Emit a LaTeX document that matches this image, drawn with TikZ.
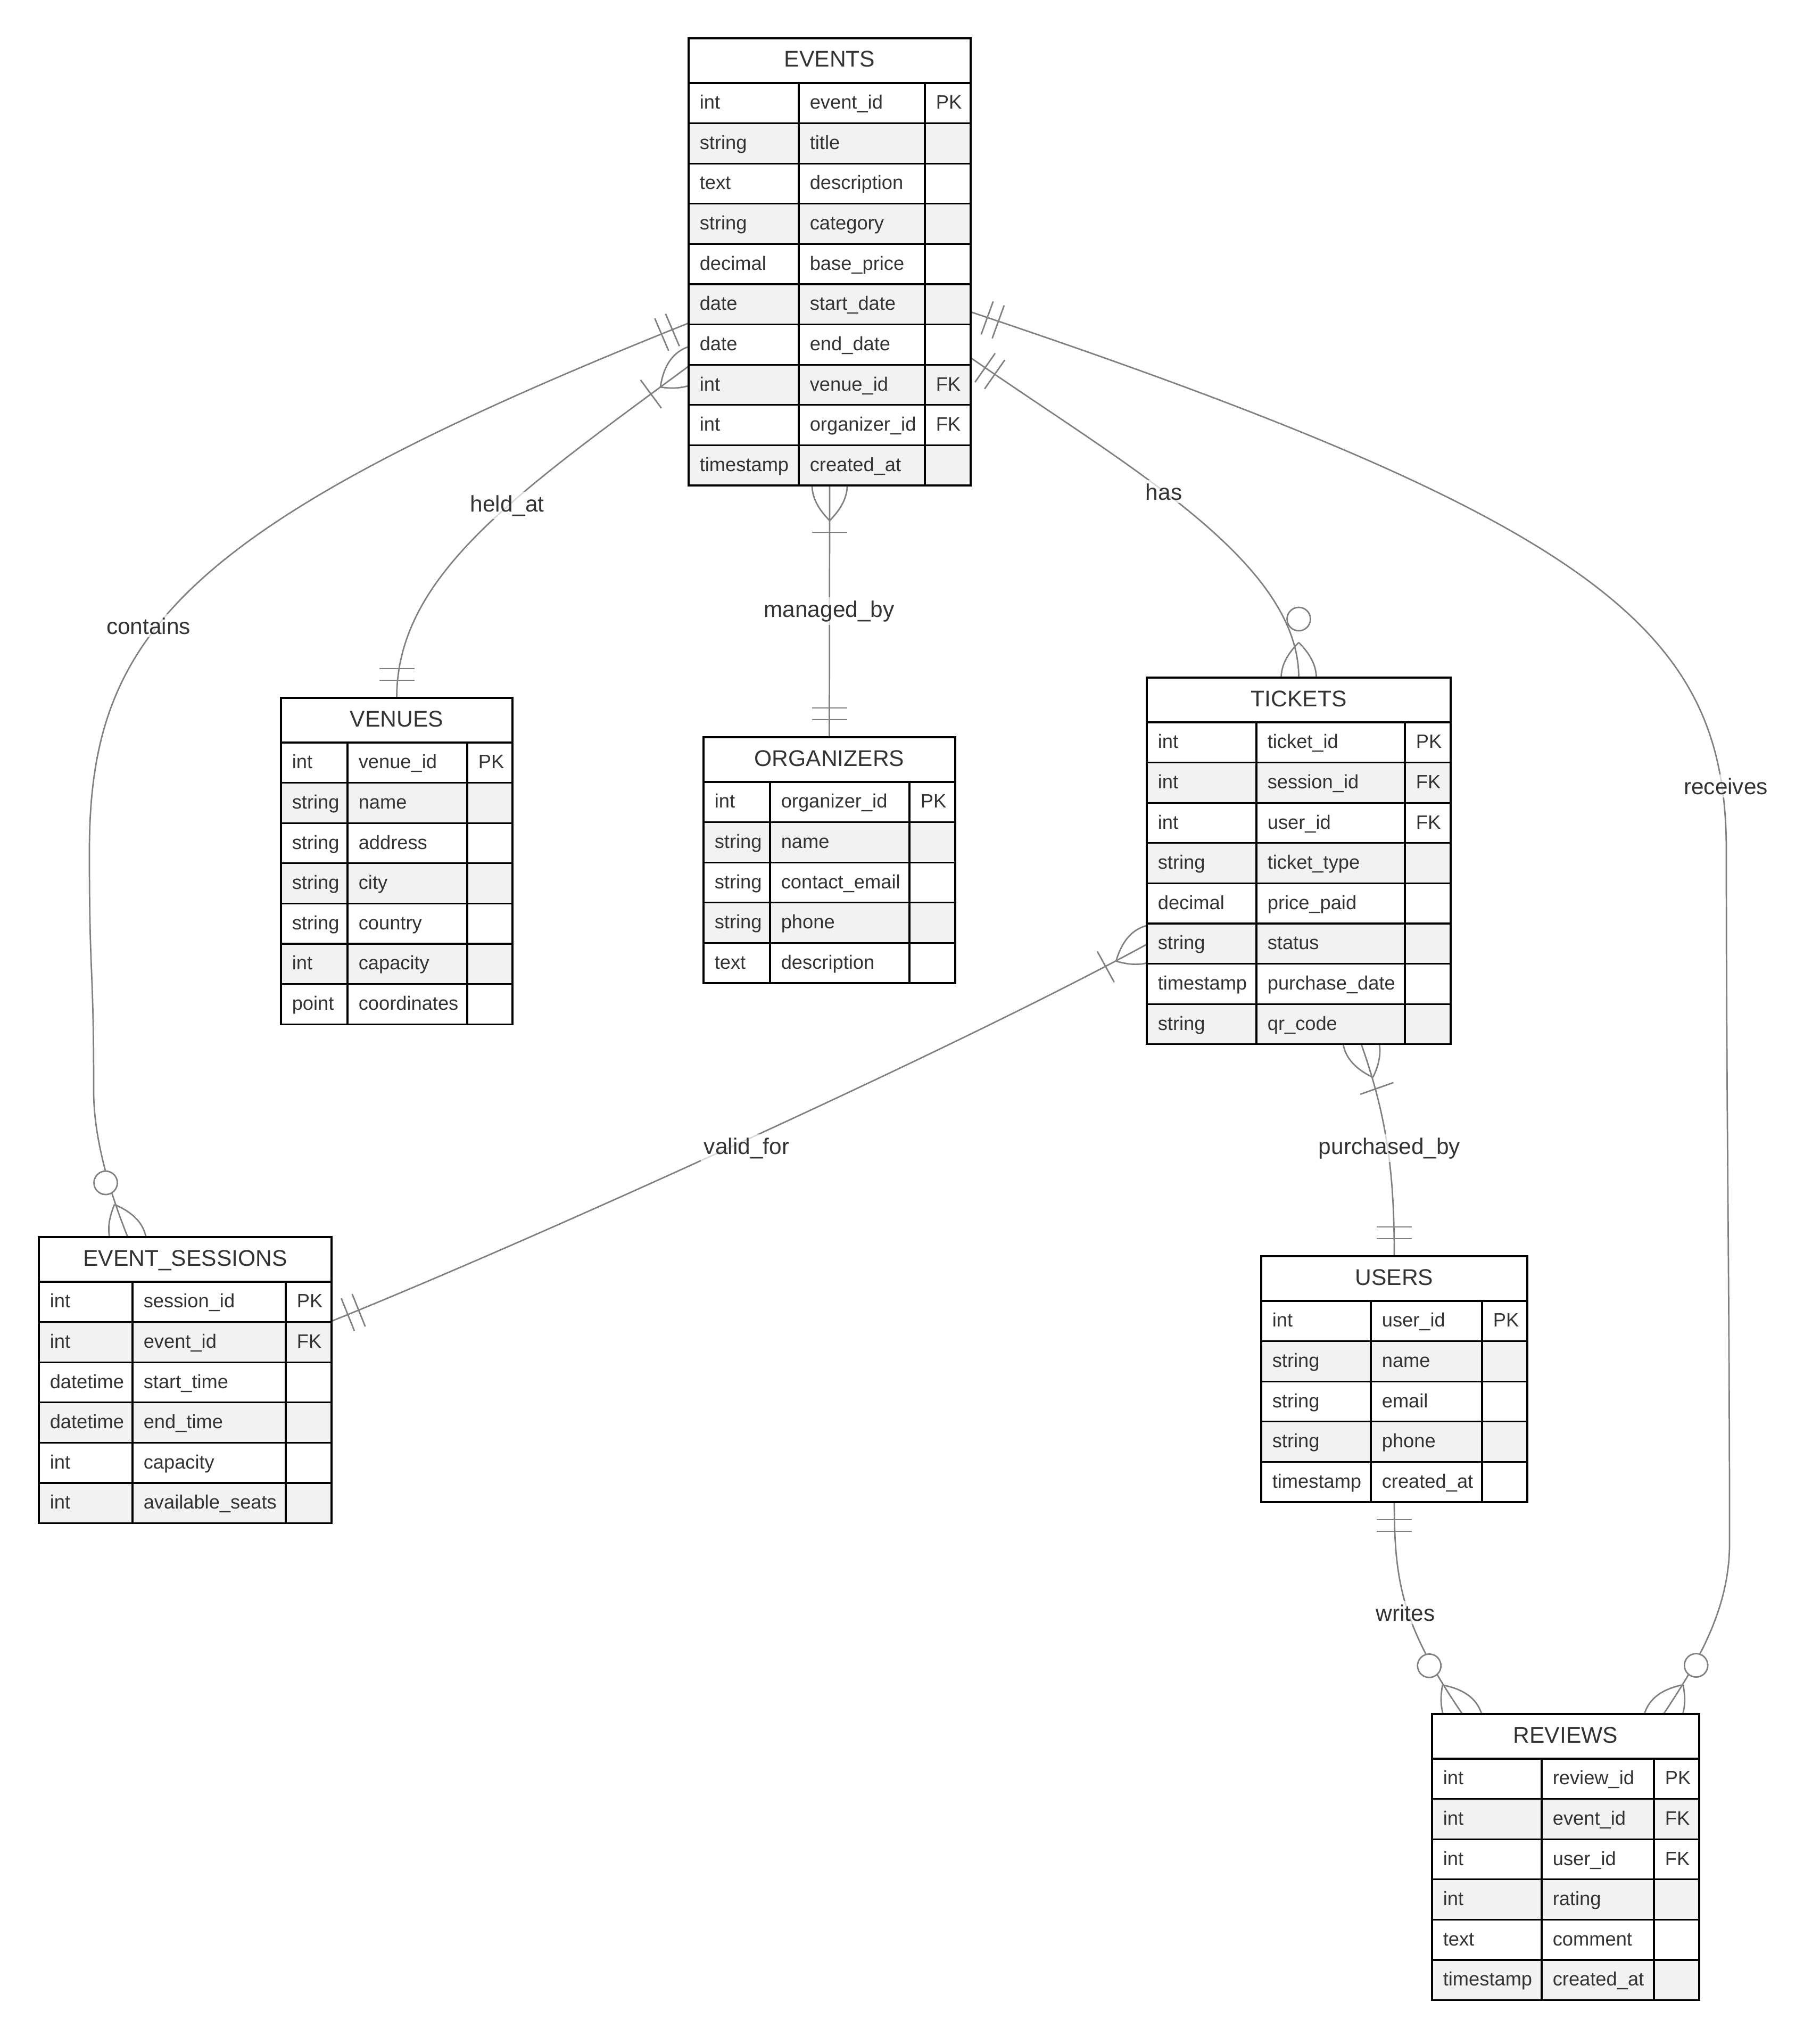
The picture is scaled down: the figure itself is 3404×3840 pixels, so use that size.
\documentclass[tikz,border=0pt]{standalone}
\usepackage{fontspec}
\setmainfont{Liberation Sans}
\usetikzlibrary{calc}

\definecolor{txt}{HTML}{333333}
\definecolor{rowgray}{HTML}{F2F2F2}
\definecolor{relgray}{HTML}{808080}

\pgfdeclarelayer{bg}
\pgfdeclarelayer{connect}
\pgfsetlayers{bg,connect,main}

% table metrics (in picture units)
\newcommand{\hdrh}{84}
\newcommand{\rowh}{75.6}

% entity table: #1 name, #2 left, #3 top, #4-#6 column widths, #7 title, #8 rows type/name/key
\newcommand{\erentity}[8]{%
  \begin{scope}[shift={(#2,#3)}]
    \pgfmathsetmacro{\cb}{#4}%
    \pgfmathsetmacro{\cc}{#4+#5}%
    \pgfmathsetmacro{\cw}{#4+#5+#6}%
    \draw[tblline, fill=white] (0,0) rectangle (\cw,\hdrh);
    \node[hdrtxt] (#1-title) at (\cw/2,\hdrh/2+12) {#7};
    \foreach \ta/\tb/\tc [count=\i] in {#8} {%
      \pgfmathsetmacro{\yt}{\hdrh+(\i-1)*\rowh}%
      \pgfmathsetmacro{\yb}{\yt+\rowh}%
      \ifodd\i\relax\def\rf{white}\else\def\rf{rowgray}\fi
      \draw[tblline, fill=\rf] (0,\yt) rectangle (\cb,\yb);
      \draw[tblline, fill=\rf] (\cb,\yt) rectangle (\cc,\yb);
      \draw[tblline, fill=\rf] (\cc,\yt) rectangle (\cw,\yb);
      \node[celltxt] (#1-t\i) at (20,\yt+48.8) {\ta};
      \node[celltxt] (#1-n\i) at (\cb+20,\yt+48.8) {\tb};
      \node[celltxt] (#1-k\i) at (\cc+20,\yt+48.8) {\tc};
      \xdef\nrows{\i}%
    }
    \pgfmathsetmacro{\th}{\hdrh+\nrows*\rowh}%
    \node[inner sep=0pt, outer sep=0pt, anchor=north west,
          minimum width=\cw*0.25pt, minimum height=\th*0.25pt] (#1) at (0,0) {};
  \end{scope}}

% relationship end markers: #1 point on the border, #2 outward angle
\newcommand{\mkone}[2]{%
  \begin{scope}[shift={(#1)}, rotate=#2]
    \draw[relline] (33,-33) -- (33,33) (55,-33) -- (55,33);
  \end{scope}}
\newcommand{\mklens}{%
  \draw[relline] (66,0) .. controls (44,22) and (22,33) .. (0,33)
                        .. controls (-22,33) and (-44,22) .. (-66,0)
                 (66,0) .. controls (44,-22) and (22,-33) .. (0,-33)
                        .. controls (-22,-33) and (-44,-22) .. (-66,0);}
\newcommand{\mkmany}[2]{%
  \begin{scope}[shift={(#1)}, rotate=#2]
    \mklens
    \draw[relline] (88,-33) -- (88,33);
  \end{scope}}
\newcommand{\mkzmany}[2]{%
  \begin{scope}[shift={(#1)}, rotate=#2]
    \mklens
    \draw[relline, fill=white] (110,0) circle[radius=22];
  \end{scope}}

\begin{document}
\begin{tikzpicture}[x=0.25pt, y=-0.25pt,
  tblline/.style={draw=black, line width=0.8pt},
  relline/.style={draw=relgray, line width=0.68pt},
  hdrtxt/.style={font=\fontsize{10.65}{12}\selectfont, text=txt, anchor=base, inner sep=0pt},
  celltxt/.style={font=\fontsize{9.07}{11}\selectfont, text=txt, anchor=base west, inner sep=0pt},
  lbl/.style={font=\fontsize{10.6}{12}\selectfont, text=txt, anchor=base,
              fill=white, fill opacity=0.7, text opacity=1, inner sep=1.5pt}]

\begin{pgfonlayer}{bg}
  \fill[white] (0,0) rectangle (3404,3840);
\end{pgfonlayer}
\useasboundingbox (0,0) rectangle (3404,3840);

% ---------- entities ----------
\erentity{events}{1294}{72}{207}{237}{86}{EVENTS}{int/event\_id/PK, string/title/{}, text/description/{}, string/category/{}, decimal/base\_price/{}, date/start\_date/{}, date/end\_date/{}, int/venue\_id/FK, int/organizer\_id/FK, timestamp/created\_at/{}}

\erentity{venues}{528}{1311}{125}{225}{85}{VENUES}{int/venue\_id/PK, string/name/{}, string/address/{}, string/city/{}, string/country/{}, int/capacity/{}, point/coordinates/{}}

\erentity{organizers}{1322}{1385}{125}{262}{86}{ORGANIZERS}{int/organizer\_id/PK, string/name/{}, string/contact\_email/{}, string/phone/{}, text/description/{}}

\erentity{tickets}{2155}{1273}{206}{279}{86}{TICKETS}{int/ticket\_id/PK, int/session\_id/FK, int/user\_id/FK, string/ticket\_type/{}, decimal/price\_paid/{}, string/status/{}, timestamp/purchase\_date/{}, string/qr\_code/{}}

\erentity{sessions}{73}{2324}{176}{288}{86}{EVENT\_SESSIONS}{int/session\_id/PK, int/event\_id/FK, datetime/start\_time/{}, datetime/end\_time/{}, int/capacity/{}, int/available\_seats/{}}

\erentity{users}{2370}{2360}{206}{209}{85}{USERS}{int/user\_id/PK, string/name/{}, string/email/{}, string/phone/{}, timestamp/created\_at/{}}

\erentity{reviews}{2691}{3220}{206}{211}{85}{REVIEWS}{int/review\_id/PK, int/event\_id/FK, int/user\_id/FK, int/rating/{}, text/comment/{}, timestamp/created\_at/{}}

% ---------- connection points ----------
\coordinate (cnt-a) at ($(events.north west)+(0,535)$);
\coordinate (cnt-m) at (168,1600);
\coordinate (cnt-n) at (176,2050);
\coordinate (cnt-b) at ($(sessions.north west)+(167,0)$);
\coordinate (hld-a) at ($(events.north west)+(0,616)$);
\coordinate (has-a) at ($(events.north east)+(0,600)$);
\coordinate (rcv-a) at ($(events.north east)+(0,514)$);
\coordinate (rcv-m) at (3244,1600);
\coordinate (rcv-n) at (3250,2900);
\coordinate (rcv-b) at ($(reviews.north west)+(435,0)$);
\coordinate (vld-a) at ($(tickets.north west)+(0,501)$);
\coordinate (vld-b) at ($(sessions.north east)+(0,158)$);
\coordinate (pur-a) at ($(tickets.south west)+(403,0)$);
\coordinate (wrt-b) at ($(reviews.north west)+(57,0)$);

% ---------- relationships ----------
\begin{pgfonlayer}{connect}
  % contains
  \draw[relline] (cnt-a) .. controls +(-957,382) and +(0,-407) .. (cnt-m)
                 .. controls +(0,250) and +(0,-250) .. (cnt-n)
                 .. controls +(0,100) and +(-26,-65) .. (cnt-b);
  \mkone{cnt-a}{203.1}
  \mkzmany{cnt-b}{112.15}
  % held_at
  \draw[relline] (hld-a) .. controls +(-322,238) and +(0,-230) .. (venues.north);
  \mkmany{hld-a}{216.45}
  \mkone{venues.north}{90}
  % managed_by
  \draw[relline] (events.south) -- (organizers.north);
  \mkmany{events.south}{-90}
  \mkone{organizers.north}{90}
  % has
  \draw[relline] (has-a) .. controls +(287,200) and +(0,-220) .. (tickets.north);
  \mkone{has-a}{-34.9}
  \mkzmany{tickets.north}{90}
  % receives
  \draw[relline] (rcv-a) .. controls +(1207,404) and +(0,-405) .. (rcv-m)
                 .. controls +(0,500) and +(0,-500) .. (rcv-n)
                 .. controls +(0,120) and +(67,-100) .. (rcv-b);
  \mkone{rcv-a}{-19.9}
  \mkzmany{rcv-b}{56.2}
  % valid_for
  \draw[relline] (vld-a) .. controls +(-351,192) and +(371,-149) .. (vld-b);
  \mkmany{vld-a}{208.7}
  \mkone{vld-b}{21.9}
  % purchased_by
  \draw[relline] (pur-a) .. controls +(50,141) and +(0,-150) .. (users.north);
  \mkmany{pur-a}{-70.6}
  \mkone{users.north}{90}
  % writes
  \draw[relline] (users.south) .. controls +(0,150) and +(-113,-165) .. (wrt-b);
  \mkone{users.south}{-90}
  \mkzmany{wrt-b}{124.5}
\end{pgfonlayer}

% ---------- relationship labels ----------
\node[lbl] (l-contains) at (279,1191) {contains};
\node[lbl] (l-held) at (953,961) {held\_at};
\node[lbl] (l-managed) at (1558,1159) {managed\_by};
\node[lbl] (l-has) at (2187,939) {has};
\node[lbl] (l-receives) at (3243,1492) {receives};
\node[lbl] (l-valid) at (1403,2168) {valid\_for};
\node[lbl] (l-purchased) at (2611,2168) {purchased\_by};
\node[lbl] (l-writes) at (2641,3045) {writes};

\end{tikzpicture}
\end{document}
